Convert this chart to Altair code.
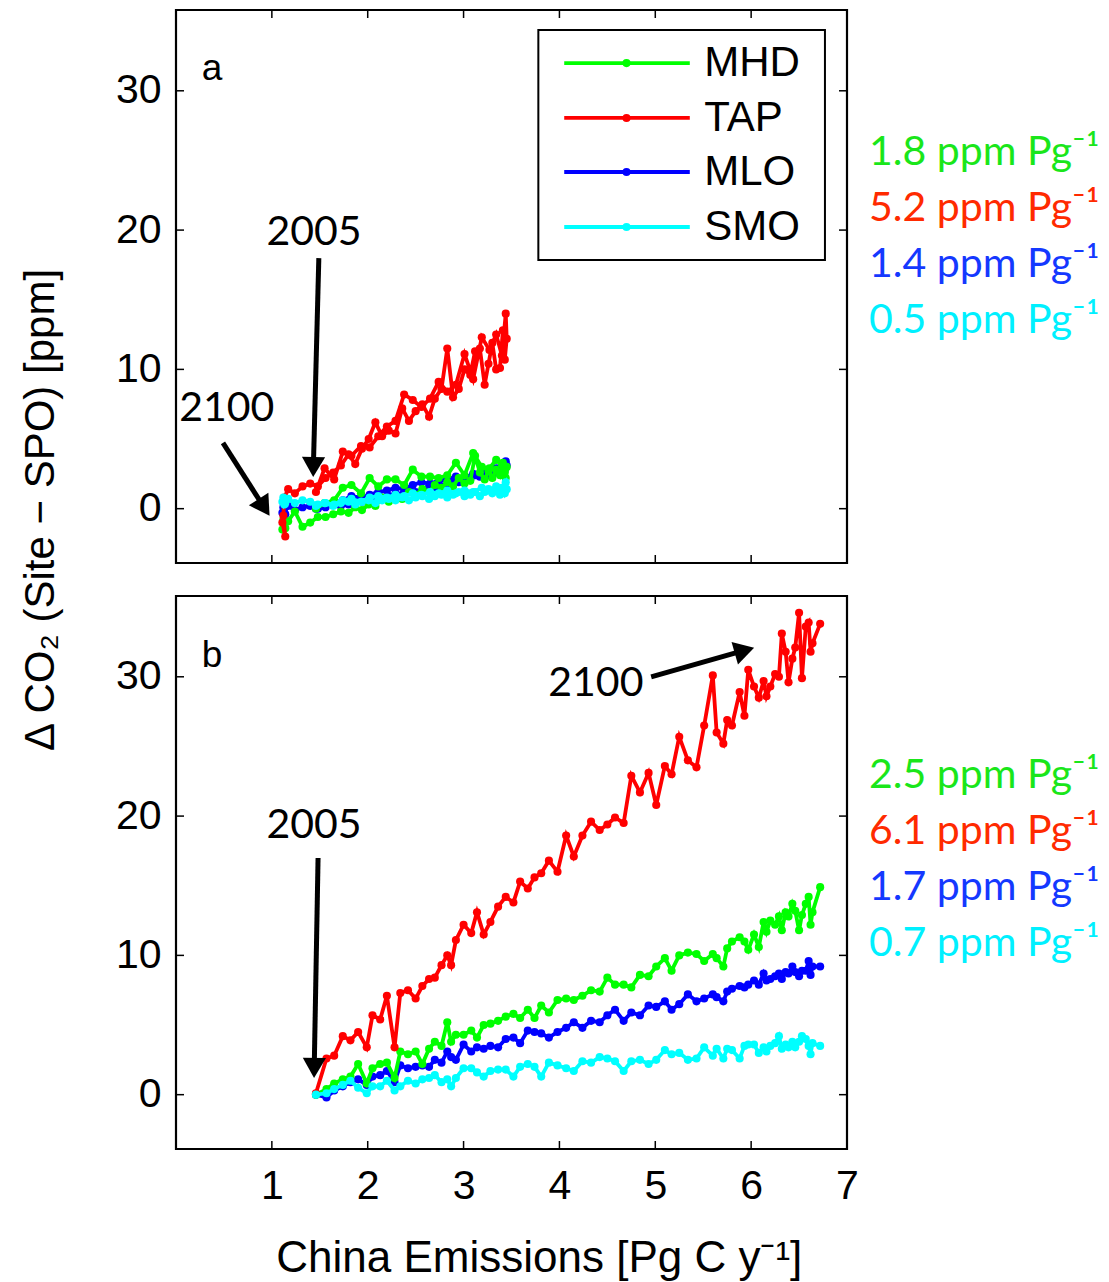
import altair as alt
import pandas as pd

SITES = ["MHD", "TAP", "MLO", "SMO"]
LINE_COLORS = ["#00FF00", "#FF0000", "#0000FF", "#00FFFF"]
TEXT_COLORS = ["#1AE61A", "#FF2A00", "#1438FF", "#00F0FF"]
DRAW_ORDER = ["MLO", "MHD", "TAP", "SMO"]

X_TICKS = [1, 2, 3, 4, 5, 6, 7]
Y_TICKS = [0, 10, 20, 30]
X_DOMAIN = [0, 7]
Y_DOMAIN = [-3.9, 35.8]

# ---------------- panel a (emissions rise to a peak, then fall back) ----------------
XA = [1.46, 1.55, 1.65, 1.74, 1.83, 1.93, 2.02, 2.11, 2.20, 2.29, 2.38, 2.47, 2.56, 2.65, 2.74, 2.83,
      2.92, 3.01, 3.10, 3.19, 3.27, 3.34, 3.40, 3.44,
      3.45, 3.43, 3.41, 3.38, 3.34, 3.30, 3.26, 3.22, 3.17, 3.12, 3.07, 3.01, 2.95, 2.89, 2.83, 2.77,
      2.70, 2.64, 2.57, 2.50, 2.43, 2.36, 2.29, 2.22, 2.15, 2.08, 2.01, 1.94, 1.87, 1.80, 1.72, 1.64,
      1.56, 1.48, 1.40, 1.32, 1.24, 1.17, 1.13, 1.12, 1.14, 1.11]
MHD_A = [0.0, 0.4, 0.6, 1.5, 1.7, 1.1, 2.2, 1.6, 2.1, 2.1, 1.7, 2.8, 2.3, 2.3, 2.2, 2.4, 3.3, 2.4, 4.0, 3.0,
         2.9, 3.5, 3.2, 2.2,
         3.0, 2.6, 3.3, 2.4, 2.8, 2.2, 2.7, 2.1, 2.6, 3.8, 2.0, 1.8, 2.2, 1.6, 1.9, 1.5, 1.7, 1.2, 1.4, 1.0,
         1.2, 0.7, 0.9, 0.5, 0.8, 0.2, 0.3, -0.1, 0.1, -0.3, -0.2, -0.4, -0.6, -0.6, -1.0, -1.3, -0.2, -0.9,
         -1.1, -0.8, -1.4, -1.5]
TAP_A = [1.2, 2.9, 2.1, 4.1, 3.8, 4.5, 4.4, 5.2, 5.9, 6.3, 8.2, 7.8, 7.3, 7.9, 9.1, 8.4, 8.9, 11.1, 9.3, 12.3,
         11.4, 12.5, 11.0, 14.0,
         12.2, 10.7, 12.8, 10.1, 10.0, 11.9, 10.4, 8.9, 11.5, 11.3, 9.6, 10.0, 8.6, 8.0, 11.5, 8.6, 7.9, 6.6,
         7.5, 7.0, 6.3, 7.2, 5.4, 5.6, 5.2, 6.2, 5.0, 4.3, 3.2, 3.9, 3.1, 2.6, 2.2, 1.6, 1.8, 1.6, 1.1, 1.4,
         0.8, -0.5, -2.0, -1.0]
MLO_A = [0.0, 0.2, 0.4, 0.6, 0.9, 0.8, 1.0, 1.2, 1.3, 1.5, 1.4, 1.7, 1.9, 1.8, 2.0, 2.1, 2.3, 2.2, 2.5, 2.6,
         2.7, 2.9, 3.2, 3.4,
         3.1, 2.8, 3.0, 2.7, 2.6, 2.8, 2.4, 2.5, 2.3, 2.4, 2.1, 2.0, 1.9, 2.0, 1.7, 1.6, 1.5, 1.6, 1.3, 1.2,
         1.3, 1.0, 1.1, 0.9, 0.8, 0.9, 0.6, 0.5, 0.6, 0.3, 0.2, 0.4, 0.1, 0.0, 0.2, 0.1, -0.1, 0.2, -0.3, 0.1,
         -0.4, -0.3]
SMO_A = [0.2, 0.4, 0.3, 0.6, 0.7, 0.5, 0.8, 0.9, 0.8, 1.0, 0.9, 1.1, 1.0, 1.2, 1.1, 1.3, 1.1, 1.3, 1.2, 1.5,
         1.3, 1.6, 1.5, 1.9,
         1.4, 1.1, 1.5, 1.0, 1.3, 1.1, 1.4, 1.2, 0.9, 1.2, 1.0, 0.9, 1.2, 1.0, 0.8, 1.0, 0.9, 0.7, 0.9, 0.8,
         0.6, 0.8, 0.6, 0.7, 0.6, 0.4, 0.6, 0.5, 0.3, 0.5, 0.4, 0.2, 0.4, 0.3, 0.5, 0.6, 0.4, 0.7, 0.3, 0.8,
         0.4, 0.5]

# ---------------- panel b (emissions keep rising) ----------------
XB = [1.46, 1.57, 1.65, 1.74, 1.82, 1.90, 1.99, 2.05, 2.13, 2.20,
      2.28, 2.34, 2.42, 2.50, 2.57, 2.64, 2.70, 2.77, 2.83, 2.87,
      2.92, 3.00, 3.08, 3.14, 3.21, 3.28, 3.36, 3.44, 3.52, 3.59,
      3.67, 3.74, 3.81, 3.89, 3.98, 4.07, 4.15, 4.24, 4.33, 4.42,
      4.50, 4.58, 4.67, 4.75, 4.84, 4.93, 5.01, 5.10, 5.17, 5.25,
      5.34, 5.43, 5.51, 5.60, 5.64, 5.71, 5.75, 5.80, 5.88, 5.93,
      5.97, 6.03, 6.08, 6.13, 6.16, 6.20, 6.25, 6.29, 6.32, 6.36,
      6.39, 6.43, 6.46, 6.50, 6.53, 6.57, 6.60, 6.62, 6.64, 6.72]
MHD_B = [0.0, 0.4, 0.8, 1.1, 1.3, 2.2, 0.8, 1.9, 2.2, 2.3,
         1.2, 3.1, 2.9, 3.1, 2.2, 3.3, 3.8, 3.5, 5.2, 3.8,
         4.3, 4.3, 4.6, 4.1, 5.0, 5.1, 5.3, 5.6, 5.8, 5.5,
         6.1, 5.5, 6.4, 5.9, 6.8, 6.9, 6.8, 7.1, 7.5, 7.4,
         8.4, 7.9, 7.9, 7.7, 8.6, 8.5, 9.2, 9.8, 8.9, 10.0,
         10.2, 10.1, 9.6, 10.1, 9.8, 9.2, 10.5, 11.0, 11.3, 11.0,
         10.4, 11.5, 10.6, 12.4, 11.7, 12.5, 12.2, 12.8, 11.8, 13.1,
         12.8, 13.7, 13.2, 11.8, 12.9, 13.7, 14.2, 12.2, 13.1, 14.9]
TAP_B = [0.1, 2.6, 2.8, 4.2, 3.9, 4.5, 3.4, 5.7, 5.4, 7.1,
         3.4, 7.3, 7.5, 6.9, 7.8, 8.3, 8.4, 9.3, 10.0, 9.3,
         11.1, 12.2, 11.6, 13.1, 11.5, 12.4, 13.5, 14.2, 13.8, 15.3,
         14.8, 15.6, 15.9, 16.8, 16.0, 18.6, 17.1, 18.6, 19.6, 19.0,
         19.4, 19.9, 19.5, 22.9, 21.7, 23.1, 20.8, 23.6, 23.0, 25.7,
         24.0, 23.5, 26.5, 30.1, 26.0, 25.2, 26.9, 26.5, 28.9, 27.2,
         30.5, 29.3, 28.5, 29.7, 28.6, 29.3, 30.2, 30.0, 33.1, 31.8,
         29.6, 31.3, 32.1, 34.6, 29.9, 33.6, 33.9, 31.8, 32.4, 33.8]
MLO_B = [0.0, -0.2, 0.3, 0.6, 0.9, 1.1, 0.7, 1.3, 1.4, 1.7,
         0.9, 2.1, 1.9, 2.0, 2.1, 2.0, 2.5, 2.3, 3.1, 2.7,
         2.5, 3.6, 3.1, 3.4, 3.3, 3.5, 3.4, 4.0, 4.1, 3.7,
         4.6, 4.5, 4.4, 4.1, 4.5, 4.8, 5.2, 4.8, 5.3, 5.2,
         5.7, 6.1, 5.3, 5.9, 5.7, 6.4, 6.3, 6.7, 6.1, 6.5,
         7.2, 6.7, 6.9, 7.2, 7.0, 6.7, 7.4, 7.6, 7.8, 7.7,
         7.9, 8.2, 7.9, 8.7, 8.2, 8.3, 8.5, 8.7, 8.3, 8.8,
         8.7, 9.2, 8.8, 8.5, 8.9, 8.9, 9.6, 8.6, 9.2, 9.2]
SMO_B = [0.0, 0.1, 0.4, 0.7, 1.0, 0.5, 0.1, 0.6, 0.6, 1.0,
         0.3, 0.6, 1.0, 0.8, 1.1, 1.2, 1.4, 0.9, 1.1, 0.6,
         1.2, 1.9, 1.9, 1.6, 1.3, 1.7, 1.8, 1.8, 1.3, 2.0,
         2.2, 2.0, 1.3, 2.3, 2.1, 1.9, 1.7, 2.4, 2.3, 2.7,
         2.6, 2.4, 1.7, 2.4, 2.5, 2.2, 2.5, 3.2, 2.9, 3.0,
         2.5, 2.6, 3.4, 2.8, 3.3, 2.6, 3.3, 3.2, 2.6, 3.5,
         3.6, 3.6, 3.0, 3.4, 3.1, 3.5, 3.7, 4.2, 3.3, 3.6,
         3.4, 3.8, 3.4, 3.8, 4.2, 4.0, 3.5, 2.9, 3.7, 3.5]

SENS_A = ["1.8", "5.2", "1.4", "0.5"]
SENS_B = ["2.5", "6.1", "1.7", "0.7"]

Y_TITLE = "\u0394 CO\u2082 (Site \u2212 SPO) [ppm]"
X_TITLE = "China Emissions [Pg C y\u207b\u00b9]"

W, H = 671, 553
FONT = "Liberation Sans"
HUMANIST = "Lato"
LW = 3.8
PT = 66


def xenc(show_labels):
    return alt.X("x:Q", scale=alt.Scale(domain=X_DOMAIN, nice=False, zero=False),
                 axis=alt.Axis(values=X_TICKS, labels=show_labels, labelPadding=17, format="d",
                               labelFlush=False),
                 title=None)


def yenc():
    return alt.Y("y:Q", scale=alt.Scale(domain=Y_DOMAIN, nice=False, zero=False),
                 axis=alt.Axis(values=Y_TICKS, labelPadding=15, format="d", labelFlush=False),
                 title=None)


def series_layers(xs, ys_by_site, show_labels):
    layers = []
    for site in DRAW_ORDER:
        k = SITES.index(site)
        df = pd.DataFrame({"i": list(range(len(xs))), "x": xs, "y": ys_by_site[k]})
        layers.append(
            alt.Chart(df).mark_line(
                color=LINE_COLORS[k], strokeWidth=LW,
                point=alt.OverlayMarkDef(filled=True, size=PT, color=LINE_COLORS[k], opacity=1),
            ).encode(x=xenc(show_labels), y=yenc(), order="i:Q")
        )
    return layers


def tick_layer(show_labels):
    tlx, tly = 8 / 95.83, 8 / 13.93
    rows = []
    for t in X_TICKS:
        rows.append(dict(x=t, x2=t, y=Y_DOMAIN[0], y2=Y_DOMAIN[0] + tly))
        rows.append(dict(x=t, x2=t, y=Y_DOMAIN[1], y2=Y_DOMAIN[1] - tly))
    for v in Y_TICKS:
        rows.append(dict(x=X_DOMAIN[0], x2=X_DOMAIN[0] + tlx, y=v, y2=v))
        rows.append(dict(x=X_DOMAIN[1], x2=X_DOMAIN[1] - tlx, y=v, y2=v))
    return alt.Chart(pd.DataFrame(rows)).mark_rule(color="black", strokeWidth=1.5).encode(
        x=xenc(show_labels), x2="x2:Q", y=yenc(), y2="y2:Q")


def sens_layer(sens, ys, show_labels):
    df = pd.DataFrame({
        "x": [7.23] * 4, "y": ys,
        "t": [f"{s} ppm Pg\u207b\u00b9" for s in sens],
        "c": TEXT_COLORS,
    })
    return alt.Chart(df).mark_text(font=HUMANIST, fontSize=41, align="left", baseline="alphabetic").encode(
        x=xenc(show_labels), y=yenc(), text="t:N", color=alt.Color("c:N", scale=None))


def text_layer(df, show_labels, **kw):
    return alt.Chart(df).mark_text(**kw).encode(x=xenc(show_labels), y=yenc(), text="t:N")


def arrow_layers(tail, head, shape, angle, show_labels):
    seg = pd.DataFrame({"x": [tail[0]], "y": [tail[1]], "x2": [head[0]], "y2": [head[1]]})
    tip = pd.DataFrame({"x": [head[0]], "y": [head[1]]})
    return [
        alt.Chart(seg).mark_rule(color="black", strokeWidth=5).encode(
            x=xenc(show_labels), y=yenc(), x2="x2:Q", y2="y2:Q"),
        alt.Chart(tip).mark_point(shape=shape, angle=angle, filled=True, color="black",
                                  size=540, opacity=1).encode(x=xenc(show_labels), y=yenc()),
    ]


# ---------------- panel a ----------------
legend_rows = [31.99, 28.05, 24.17, 20.22]
legend_box = pd.DataFrame({"x": [3.78], "x2": [6.77], "y": [34.36], "y2": [17.85]})
legend_df = pd.DataFrame({"site": SITES, "y": legend_rows, "x": [4.05] * 4, "x2": [5.36] * 4,
                          "xd": [4.70] * 4, "xt": [5.51] * 4, "c": LINE_COLORS})

legend_layers = [
    alt.Chart(legend_box).mark_rect(fill="white", stroke="black", strokeWidth=2).encode(
        x=xenc(False), x2="x2:Q", y=yenc(), y2="y2:Q"),
    alt.Chart(legend_df).mark_rule(strokeWidth=LW).encode(
        x=xenc(False), x2="x2:Q", y=yenc(), color=alt.Color("c:N", scale=None)),
    alt.Chart(legend_df).mark_point(filled=True, size=PT, opacity=1).encode(
        x=alt.X("xd:Q"), y=yenc(), color=alt.Color("c:N", scale=None)),
    alt.Chart(legend_df).mark_text(font=FONT, fontSize=42, align="left", baseline="middle", color="black").encode(
        x=alt.X("xt:Q"), y=yenc(), text="site:N"),
]

years_a = pd.DataFrame({"x": [1.44, 0.53], "y": [18.93, 6.30], "t": ["2005", "2100"]})
letter_a = pd.DataFrame({"x": [0.376], "y": [30.77], "t": ["a"]})
ytitle_df = pd.DataFrame({"x": [-1.41], "y": [-0.09], "t": [Y_TITLE]})

panel_a = alt.layer(
    *series_layers(XA, [MHD_A, TAP_A, MLO_A, SMO_A], False),
    tick_layer(False),
    *legend_layers,
    *arrow_layers((1.49, 17.99), (1.433, 2.99), "triangle-down", 1, False),
    *arrow_layers((0.49, 4.72), (0.919, 0.09), "triangle-down", 327, False),
    text_layer(years_a, False, font=HUMANIST, fontSize=41, align="center", baseline="alphabetic", color="black"),
    text_layer(letter_a, False, font=FONT, fontSize=37, align="center", baseline="alphabetic", color="black"),
    text_layer(ytitle_df, False, font=FONT, fontSize=42, align="center", baseline="middle", angle=270,
               color="black"),
    sens_layer(SENS_A, [24.67, 20.65, 16.63, 12.61], False),
).properties(width=W, height=H)

# ---------------- panel b ----------------
years_b = pd.DataFrame({"x": [1.44, 4.38], "y": [18.43, 28.62], "t": ["2005", "2100"]})
letter_b = pd.DataFrame({"x": [0.376], "y": [30.70], "t": ["b"]})
xtitle_df = pd.DataFrame({"x": [3.79], "y": [-12.73], "t": [X_TITLE]})

panel_b = alt.layer(
    *series_layers(XB, [MHD_B, TAP_B, MLO_B, SMO_B], True),
    tick_layer(True),
    *arrow_layers((1.482, 16.99), (1.442, 1.92), "triangle-down", 1, True),
    *arrow_layers((4.957, 29.99), (5.93, 31.89), "triangle-right", 344, True),
    text_layer(years_b, True, font=HUMANIST, fontSize=41, align="center", baseline="alphabetic", color="black"),
    text_layer(letter_b, True, font=FONT, fontSize=37, align="center", baseline="alphabetic", color="black"),
    text_layer(xtitle_df, True, font=FONT, fontSize=44, align="center", baseline="alphabetic", color="black"),
    sens_layer(SENS_B, [22.02, 18.0, 13.98, 9.96], True),
).properties(width=W, height=H)

chart = alt.vconcat(panel_a, panel_b, spacing=33, bounds="flush").properties(
    padding={"left": 10, "top": 0, "right": 0, "bottom": 0}
).configure_axis(
    domain=False, ticks=False, grid=False, labelFont=FONT, labelFontSize=41, labelColor="black"
).configure_view(stroke="black", strokeWidth=2.2)

chart.save("out.html", embed_options={"renderer": "svg", "actions": False})
